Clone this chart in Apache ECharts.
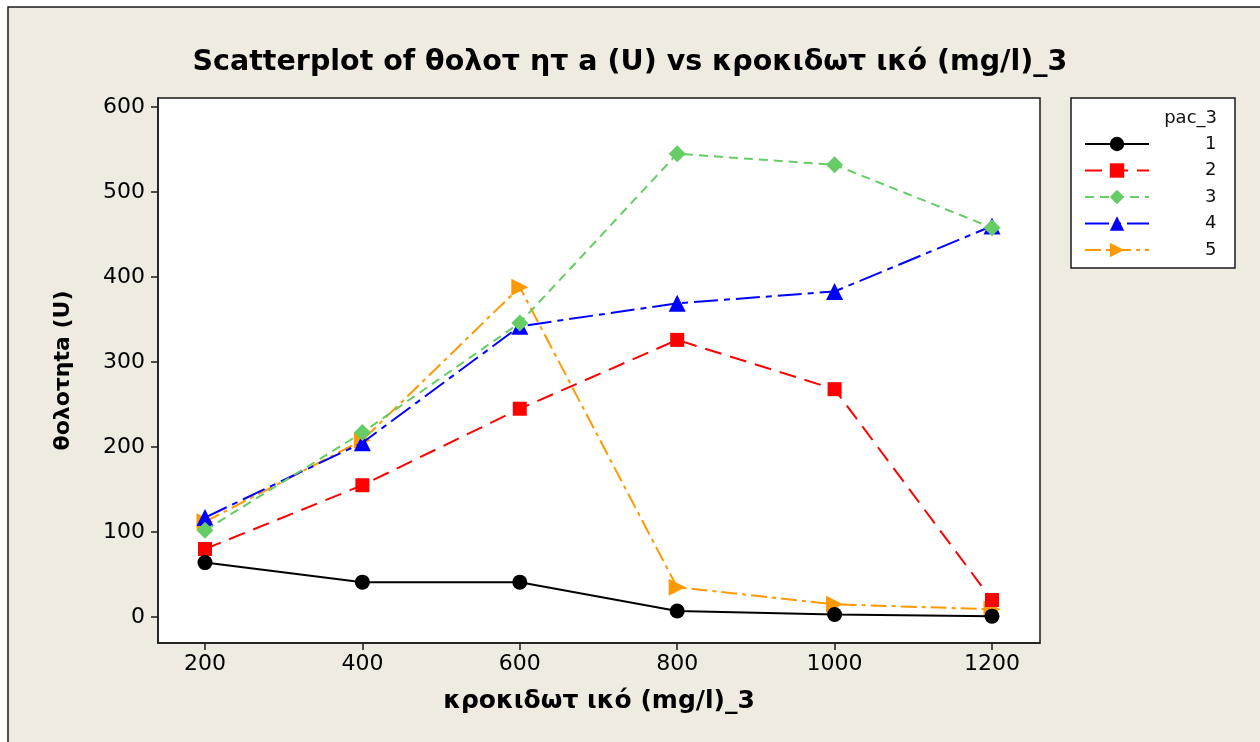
<!DOCTYPE html>
<html>
<head>
<meta charset="utf-8">
<script src="https://cdn.jsdelivr.net/npm/echarts@6/dist/echarts.min.js"></script>
<style>
  html, body { margin: 0; padding: 0; background: #ffffff; }
  #chart { width: 1260px; height: 742px; }
</style>
</head>
<body>
<div id="chart"></div>
<script>
// Flocculant dose (mg/l) and turbidity (U) for each pac_3 level
const doses = [200, 400, 600, 800, 1000, 1200];
const xTicks = [200, 400, 600, 800, 1000, 1200];
const yTicks = [0, 100, 200, 300, 400, 500, 600];
const seriesNames = ['1', '2', '3', '4', '5'];
const pac1 = [64, 41, 41, 7, 3, 1];
const pac2 = [80, 155, 245, 326, 268, 20];
const pac3 = [102, 217, 346, 545, 532, 458];
const pac4 = [117, 205, 342, 369, 383, 460];
const pac5 = [112, 208, 388, 35, 15, 9];

const values = [pac1, pac2, pac3, pac4, pac5];
const colors = ['#000000', '#ff0000', '#66cc66', '#0000ff', '#ff9900'];
const symbols = ['circle', 'rect', 'diamond', 'triangle', 'triangle'];
const symbolSizes = [15, 14, 17, 17, 17];
const symbolRotations = [0, 0, 0, 0, -90];
const dashes = ['solid', [17, 9], [9, 6], [24, 6, 6, 6], [16, 5, 4, 5]];

const font = 'DejaVu Sans, Verdana, sans-serif';

const chart = echarts.init(document.getElementById('chart'), null, { renderer: 'canvas' });

const series = seriesNames.map((name, i) => ({
  name: name,
  type: 'line',
  data: doses.map((d, j) => [d, values[i][j]]),
  symbol: symbols[i],
  symbolSize: symbolSizes[i],
  symbolRotate: symbolRotations[i],
  showAllSymbol: true,
  z: 10 - i,
  itemStyle: { color: colors[i] },
  lineStyle: { color: colors[i], width: 2, type: dashes[i] },
  emphasis: { disabled: true },
  animation: false
}));

const plainNumber = v => String(v);

chart.setOption({
  animation: false,
  backgroundColor: '#ffffff',
  graphic: [
    {
      type: 'rect', z: -10, silent: true,
      shape: { x: 8, y: 7, width: 1262, height: 750 },
      style: { fill: '#efebe1', stroke: '#1a1a1a', lineWidth: 1.5 }
    },
    {
      type: 'rect', z: 5, silent: true,
      shape: { x: 1071, y: 98, width: 164, height: 170 },
      style: { fill: '#ffffff', stroke: '#1a1a1a', lineWidth: 1.5 }
    },
    {
      type: 'text', z: 6, silent: true,
      right: 1260 - 1217, top: 109,
      style: { text: 'pac_3', font: '18px ' + font, fill: '#111111' }
    }
  ],
  title: {
    text: 'Scatterplot of θολοτ ητ a (U) vs κροκιδωτ ικό (mg/l)_3',
    left: 'center',
    top: 43,
    textStyle: { fontFamily: font, fontSize: 28.5, fontWeight: 'bold', color: '#000000' }
  },
  legend: {
    orient: 'vertical',
    left: 1079,
    top: 130,
    itemWidth: 64,
    itemHeight: 18,
    itemGap: 8.5,
    z: 7,
    data: seriesNames,
    textStyle: { fontFamily: font, fontSize: 18, color: '#111111', padding: [0, 0, 0, 51] }
  },
  grid: {
    left: 158, top: 98, right: 220, bottom: 99,
    show: true,
    backgroundColor: '#ffffff',
    borderColor: '#1a1a1a',
    borderWidth: 1.5,
    containLabel: false
  },
  xAxis: {
    type: 'value',
    min: 140.3,
    max: 1261,
    name: 'κροκιδωτ ικό (mg/l)_3',
    nameLocation: 'middle',
    nameGap: 46,
    nameTextStyle: { fontFamily: font, fontSize: 25, fontWeight: 'bold', color: '#000000' },
    axisLine: { show: true, onZero: false, lineStyle: { color: '#1a1a1a', width: 1.5 } },
    axisTick: { show: true, inside: false, length: 7, customValues: xTicks, lineStyle: { color: '#1a1a1a', width: 1.5 } },
    axisLabel: { customValues: xTicks, formatter: plainNumber, fontFamily: font, fontSize: 22, color: '#000000', margin: 10 },
    splitLine: { show: false }
  },
  yAxis: {
    type: 'value',
    min: -30.6,
    max: 610.6,
    name: 'θολοτηta (U)',
    nameLocation: 'middle',
    nameGap: 84,
    nameRotate: 90,
    nameTextStyle: { fontFamily: font, fontSize: 22, fontWeight: 'bold', color: '#000000' },
    axisLine: { show: true, onZero: false, lineStyle: { color: '#1a1a1a', width: 1.5 } },
    axisTick: { show: true, inside: false, length: 7, customValues: yTicks, lineStyle: { color: '#1a1a1a', width: 1.5 } },
    axisLabel: { customValues: yTicks, formatter: plainNumber, fontFamily: font, fontSize: 22, color: '#000000', margin: 13 },
    splitLine: { show: false }
  },
  series: series
});
</script>
</body>
</html>
